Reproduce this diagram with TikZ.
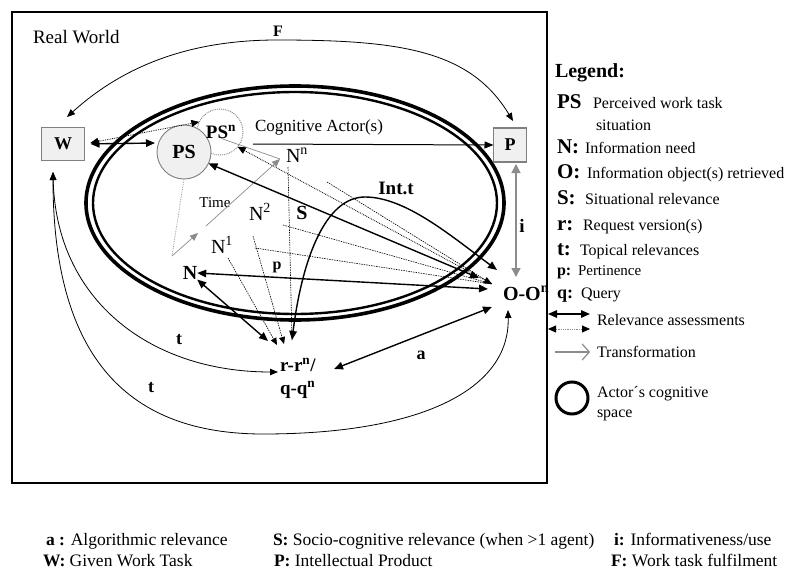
\documentclass[tikz,border=0pt]{standalone}
\usepackage{fontspec}
\setmainfont{Liberation Serif}
\usetikzlibrary{arrows.meta}
\definecolor{boxfill}{HTML}{F0F0F0}
\definecolor{boxline}{HTML}{808080}
\definecolor{transgray}{HTML}{8C8C8C}
\begin{document}
\begin{tikzpicture}[x=1pt,y=-1pt,
  every node/.style={inner sep=0pt,outer sep=0pt},
  txt/.style={font=\fontsize{#1}{#1}\selectfont},
  btxt/.style={font=\bfseries\fontsize{#1}{#1}\selectfont},
  taskbox/.style={draw=boxline,fill=boxfill,line width=1.3pt,btxt=18},
  rel/.style={line width=1.4pt,{Triangle[length=9pt,width=7.5pt]}-{Triangle[length=9pt,width=7.5pt]}},
  dotrel/.style={line width=0.8pt,densely dotted,{Triangle[length=8pt,width=7pt]}-{Triangle[length=8pt,width=7pt]}},
  thinrel/.style={line width=0.8pt,{Triangle[length=8pt,width=6.5pt]}-{Triangle[length=8pt,width=6.5pt]}},
  graydot/.style={transgray,line width=0.7pt,densely dotted},
  trans/.style={transgray,line width=0.7pt,-{Triangle[length=8pt,width=6.5pt]}},
  fine/.style={line width=0.6pt,dash pattern=on 1.5pt off 1pt},
  fineend/.style={fine,-{Triangle[length=7pt,width=6pt]}},
]
\useasboundingbox (0,0) rectangle (788,570);
\fill[white] (0,0) rectangle (788,570);

% real world frame
\draw[line width=1.2pt] (12,12) rectangle (547,483);
\node[anchor=base west,txt=19] (realworld) at (33,43) {Real World};

% actor's cognitive space
\draw[line width=3.6pt] (295,203) ellipse [x radius=209pt,y radius=117pt];
\draw[line width=2.4pt] (295,203) ellipse [x radius=202pt,y radius=111pt];

% work task, product, perceived situations
\node[taskbox,minimum width=43pt,minimum height=33pt] (W) at (63,144) {W};
\node[taskbox,minimum width=33pt,minimum height=34pt] (P) at (510,145) {P};
\node[circle,draw=boxline,densely dotted,line width=0.9pt,minimum size=46pt] (PSnc) at (220,132) {};
\node[circle,draw=boxline,fill=boxfill,line width=0.9pt,minimum size=54pt,btxt=20] (PS) at (184,152) {PS};
\node[btxt=19] (PSn) at (221,132) {PS\textsuperscript{n}};
\node[anchor=base,txt=17] (CA) at (319,131) {Cognitive Actor(s)};

% needs, requests, objects
\node[txt=20] (Nn) at (297,155) {N\textsuperscript{n}};
\node[txt=20] (N2) at (260,212) {N\textsuperscript{2}};
\node[txt=20] (N1) at (222,245) {N\textsuperscript{1}};
\node[btxt=20] (N) at (190,273) {N};
\node[btxt=20,anchor=base west] (O) at (503,300) {O-O\textsuperscript{n}};
\node[btxt=19,anchor=base west] (rr) at (280,371) {r-r\textsuperscript{n}/};
\node[btxt=19,anchor=base west] (qq) at (280,394) {q-q\textsuperscript{n}};

% relevance labels
\node[btxt=20] (S) at (302,213) {S};
\node[btxt=16] (p) at (277,267) {p};
\node[txt=15] (time) at (215,203) {Time};
\node[btxt=19] (intt) at (396,188) {Int.t};
\node[btxt=19] (i) at (522,226) {i};
\node[btxt=18] (a) at (421,355) {a};
\node[btxt=18] (t1) at (179,340) {t};
\node[btxt=18] (t2) at (151,388) {t};
\node[btxt=16] (F) at (278,31) {F};

% connector end points
\coordinate (psin) at (155,143);
\coordinate (ca) at (253,144);
\coordinate (tb) at (172,256);
\coordinate (tm1) at (198,233);
\coordinate (tm2) at (206,226);
\coordinate (tn) at (280,159);
\coordinate (oc) at (492,284);
\coordinate (oS) at (479,278);
\coordinate (oN) at (488,289);
\coordinate (oI) at (497,270);
\coordinate (ra) at (268,341);
\coordinate (rb) at (277,345);
\coordinate (rc) at (284,344);
\coordinate (rd) at (292,340);
\coordinate (rt) at (278,372);
\coordinate (rq) at (334,369);
\coordinate (oa) at (492,307);
\coordinate (ob) at (508,310);
\coordinate (wb) at (53,172);
\coordinate (wt) at (67,117);
\coordinate (pt) at (513,121);
\coordinate (ip) at (516,164);
\coordinate (io) at (516,277);
\coordinate (dNn) at (288,167);
\coordinate (dN2) at (253,236);
\coordinate (dN1) at (228,258);
\coordinate (dS) at (327,182);
\coordinate (dS2) at (283,225);
\coordinate (dp) at (255,248);

% work task fulfilment
\draw[thinrel] (wt) .. controls (130,60) and (200,40) .. (277,40)
  .. controls (400,40) and (470,50) .. (pt);

% assessments between task, situations and product
\draw[rel,shorten <=6pt] (W.east) -- (psin);
\draw[dotrel,shorten <=6pt] (W.east) -- (PSnc.154);
\draw[line width=1pt,-{Triangle[length=9pt,width=7pt]}] (ca) -- (P.west);
\draw[transgray,line width=1.3pt,{Triangle[length=9pt,width=9pt]}-{Triangle[length=9pt,width=9pt]}] (ip) -- (io);

% transformation over time
\draw[graydot] (PS.south) -- (tb);
\draw[trans] (tb) -- (tm1);
\draw[trans] (tm2) -- (tn);
\draw[transgray,line width=0.7pt] (PSn.south) -- (tn);

% lines into the retrieved objects
\draw[fine] (dS) -- (oc);
\draw[fine] (dS2) -- (oc);
\draw[fine] (dp) -- (oc);
\draw[dotrel] (PSnc.-40) -- (oc);
\draw[rel] (PS.-25) -- (oS);
\draw[rel] (N.east) -- (oN);
\draw[rel] (rd) .. controls (302,260) and (325,197) .. (365,197)
  .. controls (405,197) and (450,235) .. (oI);

% lines into the requests
\draw[rel] (N.south east) -- (ra);
\draw[fineend] (dN1) -- (rb);
\draw[fineend] (dN2) -- (rc);
\draw[fine] (dNn) -- (rd);
\draw[rel] (rq) -- (oa);

% topical relevances
\draw[thinrel] (wb) .. controls (56,300) and (150,372) .. (rt);
\draw[thinrel] (wb) .. controls (53,360) and (130,434) .. (263,434)
  .. controls (420,434) and (510,390) .. (ob);

% legend
\node[anchor=base west,btxt=20] (leg) at (555,77) {Legend:};
\node[anchor=base west,btxt=21] (kPS) at (557,108) {PS};
\node[anchor=base west,txt=16] (dPS) at (593,108) {Perceived work task};
\node[anchor=base west,txt=16] (dPSb) at (596,130) {situation};
\node[anchor=base west,btxt=21] (kN) at (557,153) {N:};
\node[anchor=base west,txt=16] (dN) at (585,153) {Information need};
\node[anchor=base west,btxt=21] (kO) at (557,178) {O:};
\node[anchor=base west,txt=16] (dO) at (587,178) {Information object(s) retrieved};
\node[anchor=base west,btxt=21] (kS) at (557,204) {S:};
\node[anchor=base west,txt=16] (dS) at (585,204) {Situational relevance};
\node[anchor=base west,btxt=21] (kr) at (557,230) {r:};
\node[anchor=base west,txt=16] (dr) at (583,230) {Request version(s)};
\node[anchor=base west,btxt=21] (kt) at (557,255) {t:};
\node[anchor=base west,txt=16] (dt) at (580,255) {Topical relevances};
\node[anchor=base west,btxt=16] (kp) at (557,275) {p:};
\node[anchor=base west,txt=15] (dp) at (578,275) {Pertinence};
\node[anchor=base west,btxt=18] (kq) at (557,298) {q:};
\node[anchor=base west,txt=16] (dq) at (581,298) {Query};
\draw[rel] (548,314) -- (590,314);
\draw[line width=0.8pt,transgray,densely dotted,{Triangle[length=8pt,width=7pt,black]}-{Triangle[length=8pt,width=7pt,black]}] (548,329) -- (590,329);
\node[anchor=base west,txt=16] (dra) at (597,325) {Relevance assessments};
\draw[transgray,line width=1.2pt,-{Straight Barb[length=7pt,width=16pt]}] (555,352) -- (590,352);
\node[anchor=base west,txt=16] (dtr) at (597,357) {Transformation};
\draw[line width=3pt] (572,398) circle [radius=16pt];
\node[anchor=base west,txt=16] (dac) at (597,397) {Actor´s cognitive};
\node[anchor=base west,txt=16] (dacb) at (597,417) {space};

% abbreviations below the frame
\node[anchor=base west,txt=17.5] (la) at (46,545) {\textbf{a :} Algorithmic relevance};
\node[anchor=base west,txt=17.5] (lw) at (43,566) {\textbf{W:} Given Work Task};
\node[anchor=base west,txt=17.5] (ls) at (273,545) {\textbf{S:} Socio-cognitive relevance (when >1 agent)};
\node[anchor=base west,txt=17.5] (lp) at (274,566) {\textbf{P:} Intellectual Product};
\node[anchor=base west,txt=17.5] (li) at (614,545) {\textbf{i:} Informativeness/use};
\node[anchor=base west,txt=17.5] (lf) at (611,566) {\textbf{F:} Work task fulfilment};
\end{tikzpicture}
\end{document}
